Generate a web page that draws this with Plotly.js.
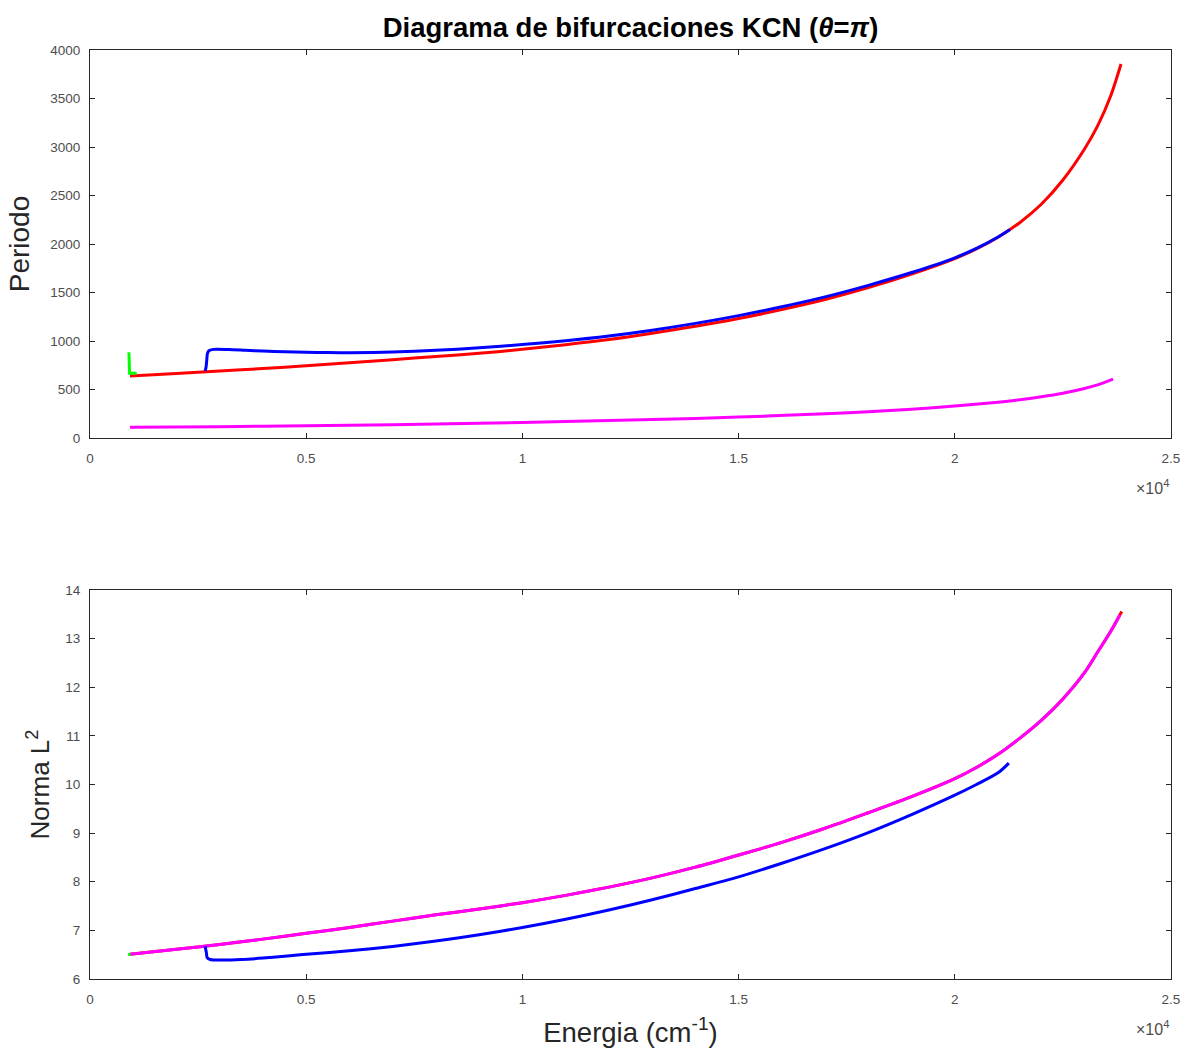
<!DOCTYPE html>
<html>
<head>
<meta charset="utf-8">
<script src="https://cdn.plot.ly/plotly-3.0.1.min.js"></script>
<style>html,body{margin:0;padding:0;background:#fff;}#chart{width:1184px;height:1050px;}</style>
</head>
<body>
<div id="chart"></div>
<script>
// ---- Top panel: Periodo vs Energia ----
const redTopX = [925, 2000, 3000, 4000, 5000, 6000, 7000, 8000, 9000, 10000, 11000, 12000, 13000, 14000, 15000, 16000, 17000, 18000, 19000, 20000, 20500, 21000, 21500, 22000, 22500, 23000, 23300, 23600, 23844];
const redTopY = [639, 665, 690, 716, 745, 776, 808, 840, 873, 915, 962, 1015, 1080, 1152, 1232, 1325, 1428, 1550, 1690, 1850, 1950, 2070, 2220, 2410, 2660, 2980, 3215, 3520, 3856];

const blueTopX = [2660, 2680, 2700, 2715, 2750, 2850, 3200, 3600, 4000, 4500, 5000, 5500, 6000, 7000, 8000, 9000, 10000, 11000, 12000, 13000, 14000, 15000, 16000, 17000, 18000, 19000, 20000, 20500, 21000, 21277];
const blueTopY = [692, 720, 800, 870, 900, 914, 913, 905, 897, 889, 884, 881, 880, 887, 904, 930, 963, 1003, 1052, 1112, 1182, 1262, 1353, 1455, 1574, 1706, 1858, 1955, 2073, 2150];

const greenTopX = [900, 905, 915, 1080];
const greenTopY = [885, 760, 668, 668];

const magentaTopX = [925, 3000, 5000, 7000, 9000, 11000, 13000, 15000, 17000, 18000, 19000, 20000, 21000, 21500, 22000, 22500, 23000, 23300, 23660];
const magentaTopY = [110, 117, 126, 138, 152, 170, 190, 216, 250, 272, 298, 330, 370, 395, 425, 462, 510, 548, 608];

// ---- Bottom panel: Norma L2 vs Energia ----
const redBotX = [925, 2000, 3000, 4000, 5000, 6000, 7000, 8000, 9000, 10000, 11000, 12000, 13000, 14000, 15000, 16000, 17000, 18000, 19000, 20000, 20500, 21000, 21500, 22000, 22500, 23000, 23300, 23600, 23860];
const redBotY = [6.51, 6.61, 6.71, 6.82, 6.94, 7.06, 7.19, 7.32, 7.44, 7.57, 7.72, 7.89, 8.08, 8.30, 8.55, 8.81, 9.10, 9.42, 9.75, 10.12, 10.35, 10.62, 10.95, 11.32, 11.76, 12.30, 12.72, 13.14, 13.56];

const magentaBotX = [925, 2000, 3000, 4000, 5000, 6000, 7000, 8000, 9000, 10000, 11000, 12000, 13000, 14000, 15000, 16000, 17000, 18000, 19000, 20000, 20500, 21000, 21500, 22000, 22500, 23000, 23300, 23600, 23820];
const magentaBotY = [6.51, 6.61, 6.71, 6.82, 6.94, 7.06, 7.19, 7.32, 7.44, 7.57, 7.72, 7.89, 8.08, 8.30, 8.55, 8.81, 9.10, 9.42, 9.75, 10.12, 10.35, 10.62, 10.95, 11.32, 11.76, 12.30, 12.72, 13.14, 13.49];

const blueBotX = [2660, 2690, 2710, 2780, 3000, 3500, 4000, 4625, 5000, 6000, 7000, 8000, 9000, 10000, 11000, 12000, 13000, 14000, 15000, 16000, 17000, 18000, 19000, 20000, 20500, 21000, 21250];
const blueBotY = [6.67, 6.55, 6.44, 6.40, 6.39, 6.40, 6.43, 6.48, 6.51, 6.58, 6.67, 6.78, 6.91, 7.06, 7.23, 7.42, 7.63, 7.86, 8.10, 8.38, 8.68, 9.01, 9.38, 9.78, 10.00, 10.24, 10.44];

const greenBotX = [880, 935];
const greenBotY = [6.50, 6.51];

// ---- Tick labels ----
const xTickVals = [0, 5000, 10000, 15000, 20000, 25000];
const xTickText = ['0', '0.5', '1', '1.5', '2', '2.5'];
const yTopTickVals = [0, 500, 1000, 1500, 2000, 2500, 3000, 3500, 4000];
const yBotTickVals = [6, 7, 8, 9, 10, 11, 12, 13, 14];

const lw = 3;
function tr(x, y, color, xa, ya, smooth) {
  const line = {color: color, width: lw};
  if (smooth) { line.shape = 'spline'; line.smoothing = 0.8; }
  return {x: x, y: y, type: 'scatter', mode: 'lines', line: line, xaxis: xa, yaxis: ya, hoverinfo: 'skip', showlegend: false};
}

const data = [
  tr(redTopX, redTopY, '#ff0000', 'x', 'y', true),
  tr(greenTopX, greenTopY, '#00ff00', 'x', 'y', false),
  tr(blueTopX, blueTopY, '#0000ff', 'x', 'y', true),
  tr(magentaTopX, magentaTopY, '#ff00ff', 'x', 'y', true),
  tr(redBotX, redBotY, '#ff0000', 'x2', 'y2', true),
  tr(magentaBotX, magentaBotY, '#ff00ff', 'x2', 'y2', true),
  tr(blueBotX, blueBotY, '#0000ff', 'x2', 'y2', true),
  tr(greenBotX, greenBotY, '#00ff00', 'x2', 'y2', false)
];

const FONT = 'Liberation Sans, Arial, Helvetica, sans-serif';
const axCol = '#262626';
const tickFont = {family: FONT, size: 13.5, color: '#4d4d4d'};
function xax(anchor, withTitle) {
  const a = {
    range: [0, 25000], tickmode: 'array', tickvals: xTickVals, ticktext: xTickText,
    ticks: 'inside', ticklen: 5, tickwidth: 1, tickcolor: axCol,
    showline: true, linecolor: axCol, linewidth: 1, mirror: 'ticks',
    showgrid: false, zeroline: false, tickfont: tickFont, anchor: anchor,
    ticklabelstandoff: 8
  };
  if (withTitle) {
    a.title = {text: 'Energia (cm<sup>-1</sup>)', font: {family: FONT, size: 27.5, color: '#262626'}, standoff: 16};
  }
  return a;
}
function yax(range, vals, title, size, domain, anchor, standoff) {
  return {
    range: range, tickmode: 'array', tickvals: vals,
    ticks: 'inside', ticklen: 5, tickwidth: 1, tickcolor: axCol,
    showline: true, linecolor: axCol, linewidth: 1, mirror: 'ticks',
    showgrid: false, zeroline: false, tickfont: tickFont, domain: domain, anchor: anchor,
    ticklabelstandoff: 6,
    title: {text: title, font: {family: FONT, size: size, color: '#262626'}, standoff: standoff}
  };
}

const layout = {
  width: 1184, height: 1050,
  margin: {l: 90, r: 13, t: 50, b: 71},
  paper_bgcolor: '#ffffff', plot_bgcolor: '#ffffff',
  title: {text: '<b>Diagrama de bifurcaciones KCN (<i>θ</i>=<i>π</i>)</b>', font: {family: FONT, size: 27.5, color: '#000000'}, x: 0.5325, xanchor: 'center', y: 0.974, yanchor: 'middle'},
  xaxis: xax('y', false),
  yaxis: yax([0, 4000], yTopTickVals, 'Periodo', 28, [0.5823, 1], 'x', 12),
  xaxis2: xax('y2', true),
  yaxis2: yax([6, 14], yBotTickVals, 'Norma L<sup>2</sup>', 26, [0, 0.4187], 'x2', 8),
  annotations: [
    {text: '×10<sup>4</sup>', xref: 'paper', yref: 'paper', x: 1.0, y: 0.5823, xanchor: 'right', yanchor: 'top', yshift: -37, xshift: 0, showarrow: false, font: {family: FONT, size: 16, color: '#4d4d4d'}},
    {text: '×10<sup>4</sup>', xref: 'paper', yref: 'paper', x: 1.0, y: 0, xanchor: 'right', yanchor: 'top', yshift: -37, xshift: 0, showarrow: false, font: {family: FONT, size: 16, color: '#4d4d4d'}}
  ],
  showlegend: false
};

Plotly.newPlot('chart', data, layout, {displayModeBar: false, staticPlot: true});
</script>
</body>
</html>
